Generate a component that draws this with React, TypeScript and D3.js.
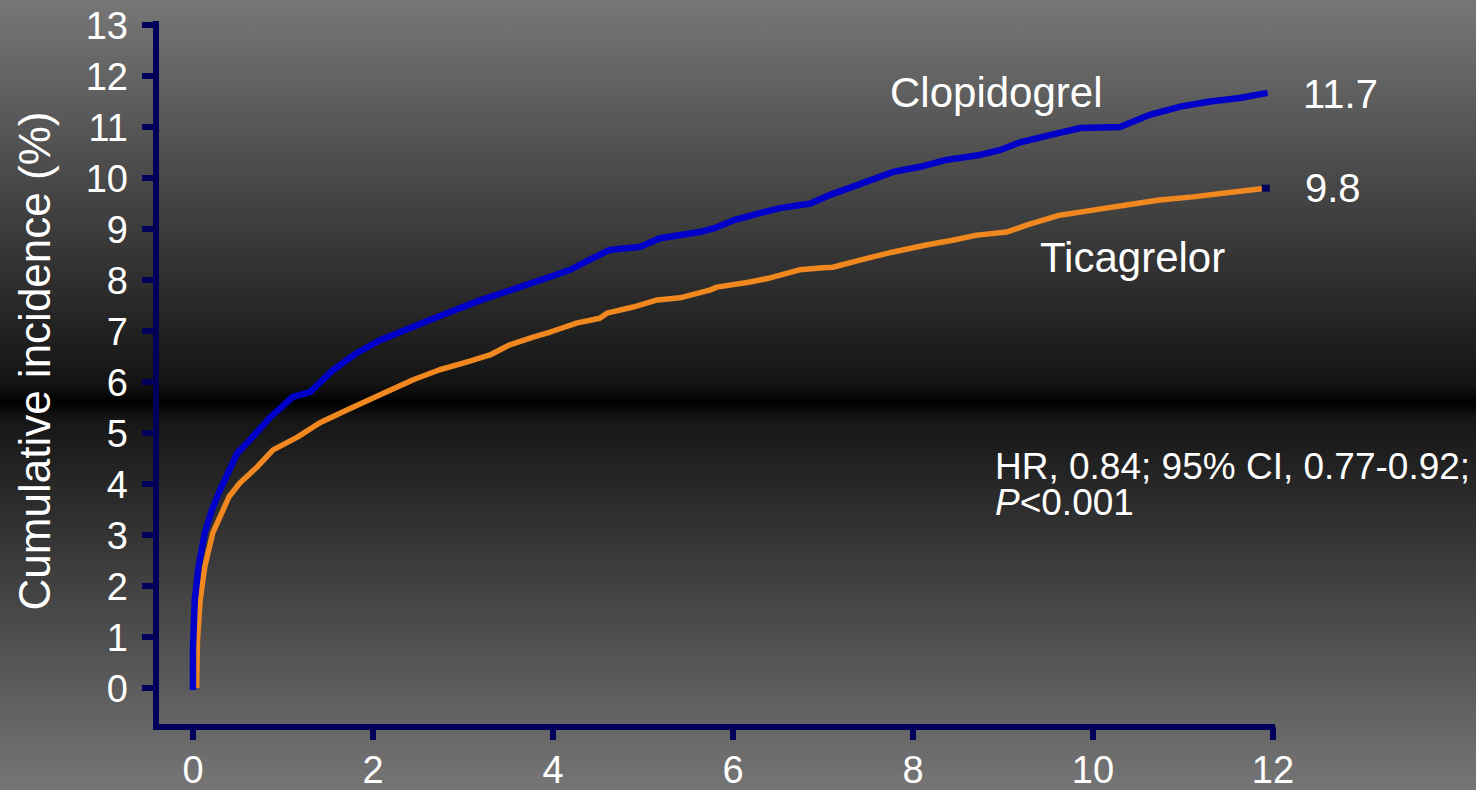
import React from "react";
import * as d3 from "d3";

// months since randomization / cumulative incidence (%)
const clopidogrelMonths = [
  0, 0, 0.02, 0.06, 0.13, 0.21, 0.3, 0.49, 0.63, 0.86, 1.11, 1.3, 1.56, 1.82,
  2.08, 2.44, 2.82, 3.19, 3.63, 3.93, 4.19, 4.41, 4.63, 4.97, 5.19, 5.63, 5.8,
  6.02, 6.3, 6.52, 6.86, 7.08, 7.41, 7.78, 8.08, 8.36, 8.74, 8.97, 9.19, 9.52,
  9.86, 10.3, 10.63, 10.97, 11.3, 11.63, 11.94,
];
const clopidogrelValues = [
  -0.04, 0.8, 1.73, 2.37, 3.04, 3.49, 3.88, 4.6, 4.86, 5.31, 5.71, 5.8, 6.24,
  6.57, 6.82, 7.08, 7.35, 7.6, 7.86, 8.04, 8.2, 8.4, 8.59, 8.65, 8.82, 8.94,
  9.02, 9.18, 9.31, 9.41, 9.5, 9.67, 9.88, 10.12, 10.22, 10.35, 10.45, 10.55,
  10.7, 10.84, 10.98, 11.0, 11.24, 11.4, 11.5, 11.57, 11.67,
];
const ticagrelorMonths = [
  0.04, 0.05, 0.08, 0.13, 0.22, 0.4, 0.52, 0.71, 0.89, 1.16, 1.41, 1.71, 2.08,
  2.44, 2.74, 3.04, 3.3, 3.52, 3.78, 3.97, 4.27, 4.52, 4.6, 4.89, 5.16, 5.41,
  5.74, 5.82, 6.19, 6.41, 6.74, 7.0, 7.11, 7.41, 7.78, 8.16, 8.44, 8.71, 9.04,
  9.27, 9.63, 10.0, 10.37, 10.74, 11.11, 11.49, 11.92,
];
const ticagrelorValues = [
  0, 0.94, 1.73, 2.37, 3.04, 3.75, 4.02, 4.33, 4.67, 4.92, 5.2, 5.45, 5.75,
  6.04, 6.24, 6.39, 6.53, 6.73, 6.88, 6.98, 7.16, 7.25, 7.35, 7.47, 7.61, 7.65,
  7.8, 7.86, 7.96, 8.04, 8.2, 8.24, 8.25, 8.39, 8.55, 8.69, 8.78, 8.88, 8.94,
  9.08, 9.27, 9.37, 9.47, 9.57, 9.63, 9.71, 9.8,
];

const yTicks = d3.range(0, 14);
const xTicks = [0, 2, 4, 6, 8, 10, 12];
const endLabels = ["11.7", "9.8"];

const W = 1476;
const H = 790;
const AXIS = "#00005a";
const BLUE = "#0000c8";
const ORANGE = "#f0881f";
const FONT = "'Liberation Sans', Arial, sans-serif";

export default function App() {
  const x = d3.scaleLinear().domain([0, 12]).range([193, 1273]);
  const y = d3.scaleLinear().domain([0, 13]).range([688, 25]);

  const line = d3
    .line<[number, number]>()
    .x((d) => x(d[0]))
    .y((d) => y(d[1]));

  const clop = clopidogrelMonths.map((m, i) => [m, clopidogrelValues[i]] as [number, number]);
  const tica = ticagrelorMonths.map((m, i) => [m, ticagrelorValues[i]] as [number, number]);
  const ticaEnd = tica[tica.length - 1];

  const axisX = x(0) - 37; // y-axis line position
  const axisY = y(0) + 39; // x-axis line position

  return (
    <svg
      width={W}
      height={H}
      style={{ position: "absolute", left: 0, top: 0, display: "block" }}
      fontFamily={FONT}
    >
      <defs>
        <linearGradient id="bg" x1="0" y1="0" x2="0" y2="1">
          <stop offset="0%" stopColor="#777777" />
          <stop offset="48.5%" stopColor="#141414" />
          <stop offset="51%" stopColor="#000000" />
          <stop offset="53%" stopColor="#161616" />
          <stop offset="100%" stopColor="#767676" />
        </linearGradient>
      </defs>
      <rect width={W} height={H} fill="url(#bg)" />

      {/* y axis */}
      <line x1={axisX} x2={axisX} y1={21} y2={axisY + 3} stroke={AXIS} strokeWidth={6} />
      {yTicks.map((t) => (
        <g key={t}>
          <line x1={axisX - 14} x2={axisX} y1={y(t)} y2={y(t)} stroke={AXIS} strokeWidth={6} />
          <text
            x={128}
            y={y(t)}
            dy="0.36em"
            textAnchor="end"
            fill="#fff"
            fontSize={38}
          >
            {t}
          </text>
        </g>
      ))}

      {/* x axis */}
      <line x1={axisX - 3} x2={x(12) + 2} y1={axisY} y2={axisY} stroke={AXIS} strokeWidth={6} />
      {xTicks.map((t) => (
        <g key={t}>
          <line x1={x(t)} x2={x(t)} y1={axisY} y2={axisY + 13} stroke={AXIS} strokeWidth={6} />
          <text x={x(t)} y={783} textAnchor="middle" fill="#fff" fontSize={38}>
            {t}
          </text>
        </g>
      ))}

      <text
        transform={`translate(50,361) rotate(-90)`}
        textAnchor="middle"
        fill="#fff"
        fontSize={44}
      >
        Cumulative incidence (%)
      </text>

      {/* curves */}
      <path d={line(tica) || ""} fill="none" stroke={ORANGE} strokeWidth={5.5} strokeLinejoin="round" />
      <path d={line(clop) || ""} fill="none" stroke={BLUE} strokeWidth={6.5} />
      <rect x={x(ticaEnd[0]) - 4} y={y(ticaEnd[1]) - 3.5} width={8} height={7} fill={AXIS} />

      {/* labels */}
      <text x={890} y={107} fill="#fff" fontSize={42}>Clopidogrel</text>
      <text x={1040} y={272} fill="#fff" fontSize={42}>Ticagrelor</text>
      <text x={1303} y={108} fill="#fff" fontSize={40}>{endLabels[0]}</text>
      <text x={1305} y={202} fill="#fff" fontSize={40}>{endLabels[1]}</text>

      <text x={995} y={479} fill="#fff" fontSize={37}>
        HR, 0.84; 95% CI, 0.77-0.92;
      </text>
      <text x={995} y={515} fill="#fff" fontSize={37}>
        <tspan fontStyle="italic">P</tspan>&lt;0.001
      </text>
    </svg>
  );
}
